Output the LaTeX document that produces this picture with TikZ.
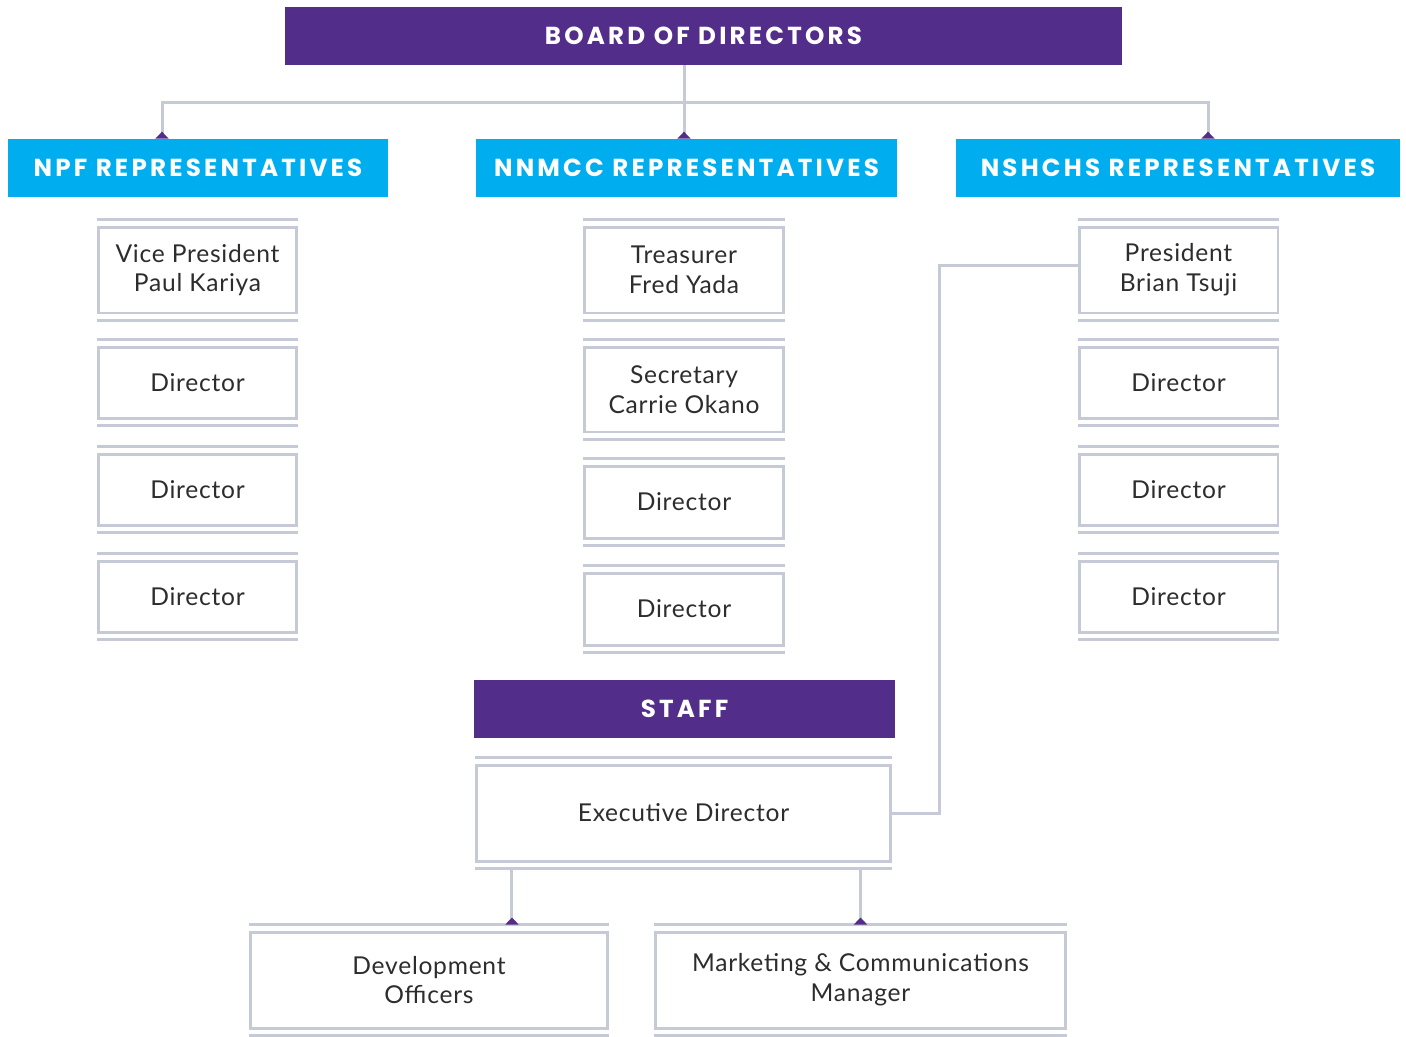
\documentclass[tikz,border=0pt]{standalone}
\usepackage{fontspec}
\setmainfont{Lato}[LetterSpace=3]
\newfontfamily\headfont[LetterSpace=13]{Poppins}
\usetikzlibrary{arrows.meta}
\definecolor{boardpurple}{HTML}{522E8A}
\definecolor{repblue}{HTML}{00AEEF}
\definecolor{rulegray}{HTML}{C6C9D6}
\definecolor{textgray}{HTML}{2D2D2D}

\begin{document}
\begin{tikzpicture}[x=0.02cm, y=-0.02cm,
head/.style={
  fill=#1, text=white, inner sep=0pt,
  minimum height=1.16cm,
  font=\headfont\bfseries\fontsize{14}{16}\selectfont
},
post/.style={
  draw=rulegray, line width=1.7pt, fill=white,
  text=textgray, align=center, inner sep=0pt,
  minimum width=3.98cm, minimum height=1.42cm,
  font=\fontsize{14}{17}\selectfont
},
conn/.style={draw=rulegray, line width=1.7pt},
tip/.style={-{Triangle[reversed,length=0.14cm,width=0.26cm,color=boardpurple]}}
]
\useasboundingbox (0,0) rectangle (1406,1036);

% board and the three groups
\node (board) [head=boardpurple, minimum width=16.74cm] at (703.5,36) {BOARD OF DIRECTORS};
\node (npf) [head=repblue, minimum width=7.6cm] at (198,168) {NPF REPRESENTATIVES};
\node (nnmcc) [head=repblue, minimum width=8.42cm] at (686.5,168) {NNMCC REPRESENTATIVES};
\node (nshchs) [head=repblue, minimum width=8.88cm] at (1178,168) {NSHCHS REPRESENTATIVES};

% NPF
\node (vp) [post, minimum height=1.72cm] at (197.5,270) {Vice President\\Paul Kariya};
\node (ld1) [post] at (197.5,382.5) {Director};
\node (ld2) [post] at (197.5,489.5) {Director};
\node (ld3) [post] at (197.5,596.5) {Director};

% NNMCC
\node (tre) [post, minimum height=1.72cm] at (684,270) {Treasurer\\Fred Yada};
\node (sec) [post, minimum height=1.70cm] at (684,389.5) {Secretary\\Carrie Okano};
\node (md1) [post, minimum height=1.44cm] at (684,502) {Director};
\node (md2) [post, minimum height=1.44cm] at (684,609) {Director};

% NSHCHS
\node (pres) [post, minimum height=1.72cm] at (1178.5,270) {President\\Brian Tsuji};
\node (rd1) [post] at (1178.5,382.5) {Director};
\node (rd2) [post] at (1178.5,489.5) {Director};
\node (rd3) [post] at (1178.5,596.5) {Director};

% staff
\node (staff) [head=boardpurple, minimum width=8.42cm] at (684.5,708.5) {STAFF};
\node (exec) [post, minimum width=8.3cm, minimum height=1.92cm] at (683.5,813) {Executive Director};
\node (dev) [post, minimum width=7.16cm, minimum height=1.92cm] at (429,980) {Development\\Officers};
\node (mkt) [post, minimum width=8.22cm, minimum height=1.92cm] at (860.5,980) {Marketing \& Communications\\Manager};

% rules above and below each post
\foreach \n in {vp,ld1,ld2,ld3,tre,sec,md1,md2,pres,rd1,rd2,rd3,exec,dev,mkt} {
  \draw[conn] ([yshift=0.12cm]\n.north west) -- ([yshift=0.12cm]\n.north east);
  \draw[conn] ([yshift=-0.12cm]\n.south west) -- ([yshift=-0.12cm]\n.south east);
}

% connectors
\coordinate (hub) at (684,102);
\draw[conn] (board.south -| hub) -- (hub);
\draw[conn,tip] (hub) -- (hub |- nnmcc.north);
\draw[conn,tip] (hub) -| ([xshift=-0.72cm]npf.north);
\draw[conn,tip] (hub) -| ([xshift=0.6cm]nshchs.north);
\draw[conn] (exec.east) -- ++(47,0) |- ([yshift=0.1cm]pres.west);
\coordinate (devin) at ([xshift=1.66cm,yshift=0.12cm]dev.north);
\coordinate (mktin) at ([yshift=0.12cm]mkt.north);
\draw[conn,tip] ([yshift=-0.12cm]exec.south -| devin) -- (devin);
\draw[conn,tip] ([yshift=-0.12cm]exec.south -| mktin) -- (mktin);
\end{tikzpicture}
\end{document}
